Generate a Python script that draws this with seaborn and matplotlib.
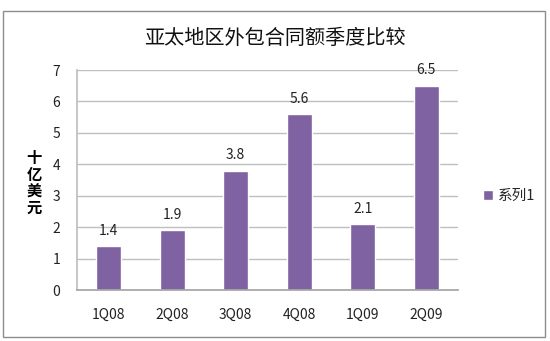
import matplotlib
matplotlib.use("Agg")
import matplotlib.pyplot as plt
import seaborn as sns
import pandas as pd
from matplotlib.patches import Rectangle

categories = ["1Q08", "2Q08", "3Q08", "4Q08", "1Q09", "2Q09"]
values = [1.4, 1.9, 3.8, 5.6, 2.1, 6.5]
series_name = "系列1"
title = "亚太地区外包合同额季度比较"
ylabel = "十亿美元"

sns.set_theme(style="white")
plt.rcParams['font.family'] = ['Noto Sans CJK SC', 'DejaVu Sans']

df = pd.DataFrame({"cat": categories, "val": values, "series": series_name})

fig = plt.figure(figsize=(5.5, 3.41), dpi=100)
ax = fig.add_axes([77/550, 1-290/341, (458-77)/550, 220/341])

sns.barplot(data=df, x="cat", y="val", hue="series", palette=["#7F62A1"],
            width=0.39, saturation=1, ax=ax, legend=True)

ax.set_ylim(0, 7)
ax.set_yticks(range(8))
ax.yaxis.grid(True, color="#BFBFBF", linewidth=1)
ax.set_axisbelow(True)
for s in ["top", "right"]:
    ax.spines[s].set_visible(False)
ax.spines["bottom"].set_color("#A6A6A6")
ax.spines["left"].set_color("#BFBFBF")
ax.tick_params(axis="x", length=0, labelsize=10, colors="#222222", pad=13)
ax.tick_params(axis="y", length=0, labelsize=10, colors="#222222", pad=12)
ax.set_xlabel("")
ax.set_ylabel("")

for c in ax.containers:
    ax.bar_label(c, labels=[f"{v:.1f}" for v in values], padding=6, fontsize=10, color="#222222")

ax.set_title("")
fig.text(275/550, 1-38/341, title, ha="center", va="center", fontsize=14.5, color="#111111")
fig.text(34/550, 1-183/341, "\n".join(ylabel), ha="center", va="center", fontsize=11,
         color="#000000", fontweight="semibold", linespacing=1.05)

leg = ax.legend(loc="center left", bbox_to_anchor=(470/550, 1-196/341), bbox_transform=fig.transFigure,
                frameon=False, fontsize=10.5, handlelength=0.7, handleheight=0.7, handletextpad=0.3)

fig.patches.append(Rectangle((3/550, 1-337/341), 542/550, 326/341, transform=fig.transFigure,
                             fill=False, edgecolor="#8C8C8C", linewidth=1))

fig.savefig("out.png", dpi=100)
